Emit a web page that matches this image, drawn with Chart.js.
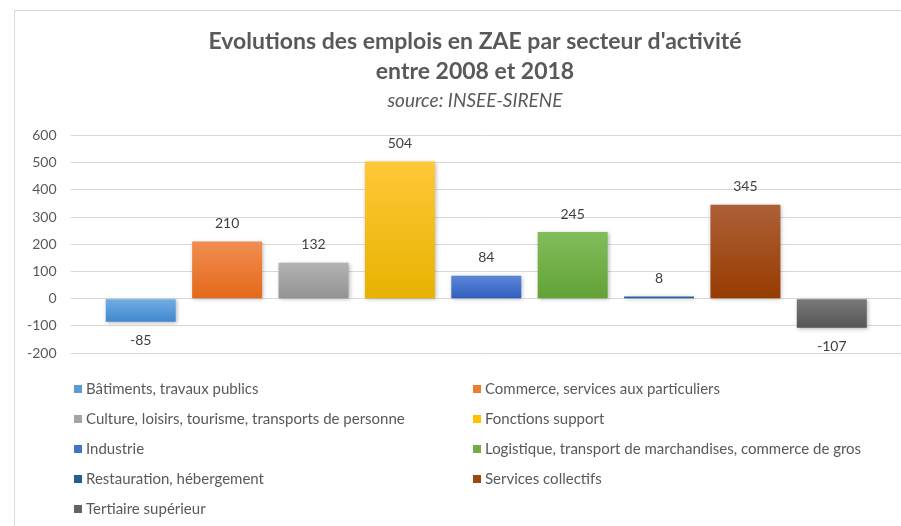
<!DOCTYPE html>
<html>
<head>
<meta charset="utf-8">
<script src="https://cdn.jsdelivr.net/npm/chart.js@4/dist/chart.umd.min.js"></script>
<style>
  html, body { margin: 0; padding: 0; background: #ffffff; overflow: hidden; }
  #wrap { position: relative; width: 901px; height: 526px; overflow: hidden; }
  #frame { position: absolute; left: 14px; top: 10px; width: 1000px; height: 700px; border: 1px solid #d9d9d9; box-sizing: border-box; }
  #c { position: absolute; left: 0; top: 0; }
  #legend { position: absolute; left: 0; top: 0; width: 901px; height: 526px; pointer-events: none;
            font-family: Lato, "Open Sans", sans-serif; font-size: 15px; color: #595959; }
  .li { position: absolute; white-space: nowrap; line-height: 18px; }
  .sw { display: inline-block; width: 8px; height: 8px; margin-right: 4px; vertical-align: 1px; }
</style>
</head>
<body>
<div id="wrap">
  <div id="frame"></div>
  <canvas id="c" width="937" height="526"></canvas>
  <div id="legend"></div>
</div>
<script>
const categories = [
  "Bâtiments, travaux publics",
  "Commerce, services aux particuliers",
  "Culture, loisirs, tourisme, transports de personne",
  "Fonctions support",
  "Industrie",
  "Logistique, transport de marchandises, commerce de gros",
  "Restauration, hébergement",
  "Services collectifs",
  "Tertiaire supérieur"
];
const values = [-85, 210, 132, 504, 84, 245, 8, 345, -107];
const yMin = -200, yMax = 600, yStep = 100;
const titleLines = ["Evolutions des emplois en ZAE par secteur d'activité", "entre 2008 et 2018"];
const subtitleText = "source: INSEE-SIRENE";

const colorsTop =    ["#72aee3", "#f28d50", "#b3b3b3", "#ffc838", "#5b87d8", "#82bd5c", "#2c65a0", "#ad6038", "#7a7a7a"];
const colorsBottom = ["#4288cf", "#e2691a", "#939393", "#e8b200", "#2f5fbf", "#62a236", "#1f5690", "#973b00", "#555555"];
const legendColors = ["#5b9bd5", "#ed7d31", "#a5a5a5", "#ffc000", "#4472c4", "#70ad47", "#255e91", "#9e480e", "#636363"];

// HTML legend in two columns
const legendEl = document.getElementById('legend');
categories.forEach((cat, i) => {
  const col = i % 2, row = Math.floor(i / 2);
  const d = document.createElement('div');
  d.className = 'li';
  d.style.left = (col === 0 ? 74 : 473) + 'px';
  d.style.top = (379 + row * 30) + 'px';
  d.innerHTML = '<span class="sw" style="background:' + legendColors[i] + '"></span>';
  d.appendChild(document.createTextNode(cat));
  legendEl.appendChild(d);
});

const shadowPlugin = {
  id: 'shadow',
  beforeDatasetsDraw(chart) {
    const ctx = chart.ctx;
    ctx.save();
    ctx.shadowColor = 'rgba(0,0,0,0.28)';
    ctx.shadowBlur = 4;
    ctx.shadowOffsetX = 1;
    ctx.shadowOffsetY = 1;
  },
  afterDatasetsDraw(chart) {
    chart.ctx.restore();
  }
};

const labelPlugin = {
  id: 'valueLabels',
  afterDatasetsDraw(chart) {
    const ctx = chart.ctx;
    const meta = chart.getDatasetMeta(0);
    ctx.save();
    ctx.font = '14px Lato, "Open Sans", sans-serif';
    ctx.fillStyle = '#404040';
    ctx.textAlign = 'center';
    ctx.textBaseline = 'middle';
    meta.data.forEach((bar, i) => {
      const v = values[i];
      const y = v >= 0 ? bar.y - 18 : bar.y + 19;
      ctx.fillText(String(v), bar.x, y);
    });
    ctx.restore();
  }
};

function barGradient(context) {
  const chart = context.chart;
  const i = context.dataIndex;
  const ys = chart.scales && chart.scales.y;
  if (!chart.chartArea || !ys || i === undefined) return colorsTop[i] || '#888';
  const v = values[i];
  const top = ys.getPixelForValue(Math.max(v, 0));
  const bottom = ys.getPixelForValue(Math.min(v, 0));
  const g = chart.ctx.createLinearGradient(0, top, 0, Math.max(bottom, top + 1));
  g.addColorStop(0, colorsTop[i]);
  g.addColorStop(1, colorsBottom[i]);
  return g;
}

new Chart(document.getElementById('c'), {
  type: 'bar',
  data: {
    labels: categories,
    datasets: [{
      data: values,
      backgroundColor: barGradient,
      borderWidth: 0,
      barPercentage: 0.81,
      categoryPercentage: 1
    }]
  },
  options: {
    responsive: false,
    animation: false,
    devicePixelRatio: 1,
    layout: { padding: { left: 13, right: 0, top: 10, bottom: 173 } },
    plugins: {
      legend: { display: false },
      tooltip: { enabled: false },
      title: {
        display: true,
        text: titleLines,
        color: '#595959',
        font: { family: 'Lato, "Open Sans", sans-serif', size: 23, weight: 'bold', lineHeight: 1.3 },
        padding: { top: 17, bottom: 0 }
      },
      subtitle: {
        display: true,
        text: subtitleText,
        color: '#595959',
        font: { family: 'Lato, "Open Sans", sans-serif', size: 19, style: 'italic', lineHeight: 1.3 },
        padding: { top: 2, bottom: 22 }
      }
    },
    scales: {
      x: { display: false },
      y: {
        min: yMin, max: yMax,
        ticks: {
          stepSize: yStep,
          color: '#595959',
          font: { family: 'Lato, "Open Sans", sans-serif', size: 14 },
          padding: 14
        },
        grid: { color: '#d9d9d9', lineWidth: 1, tickLength: 27, tickColor: '#d9d9d9' },
        border: { display: false }
      },
      y2: {
        position: 'right',
        min: yMin, max: yMax,
        ticks: { display: false, stepSize: yStep },
        grid: { drawOnChartArea: false, color: '#d9d9d9', lineWidth: 1, tickLength: 62, tickColor: '#d9d9d9' },
        border: { display: false }
      }
    }
  },
  plugins: [shadowPlugin, labelPlugin]
});
</script>
</body>
</html>
